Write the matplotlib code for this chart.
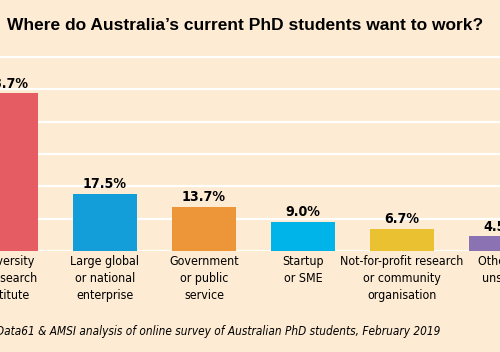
import matplotlib
matplotlib.use("Agg")
import matplotlib.pyplot as plt
import numpy as np

categories = ["University\nor research\ninstitute", "Large global\nor national\nenterprise",
              "Government\nor public\nservice", "Startup\nor SME",
              "Not-for-profit research\nor community\norganisation", "Other or\nunsure"]
values = [48.7, 17.5, 13.7, 9.0, 6.7, 4.5]
colors = ["#E65C63", "#149ED9", "#EC9539", "#00B3E8", "#EAC131", "#8B73B3"]
gridlines = [10, 20, 30, 40, 50, 60]

bg = "#FDEBD3"
narrow = ["DejaVu Sans"]

fig = plt.figure(figsize=(5, 3.52), dpi=100, facecolor=bg)
ax = fig.add_axes([0, 101/352, 1, 251/352])
ax.set_facecolor(bg)

x = np.arange(len(values))
for g in gridlines:
    ax.axhline(g, color="white", lw=1.6, zorder=1)
ax.axhline(0, color="white", lw=1.6, zorder=1)
ax.bar(x, values, width=0.645, color=colors, zorder=2)

for xi, v in zip(x, values):
    ax.text(xi, v + 0.9, f"{v:.1f}%", ha="center", va="bottom", fontstretch="condensed",
            fontsize=10.2, fontweight="bold", family=narrow, zorder=3)

for xi, c in zip(x, categories):
    ax.text(xi, -1.3, c, ha="center", va="top", fontsize=8.9, family=narrow,
            fontstretch="condensed", linespacing=1.4, clip_on=False)

ax.set_xlim(-0.06, 4.99)
ax.set_ylim(0, 77.6)
ax.axis("off")

fig.text(0.491, 1 - 25/352, "Where do Australia\u2019s current PhD students want to work?",
         ha="center", va="center", fontsize=12.5, fontweight="bold", family=["Liberation Sans", "DejaVu Sans"])
fig.text(-4/500, 1 - 332/352,
         "Data61 & AMSI analysis of online survey of Australian PhD students, February 2019",
         ha="left", va="center", fontsize=8.5, style="italic", family=narrow, fontstretch="condensed")

fig.savefig("out.png", dpi=100, facecolor=bg)
